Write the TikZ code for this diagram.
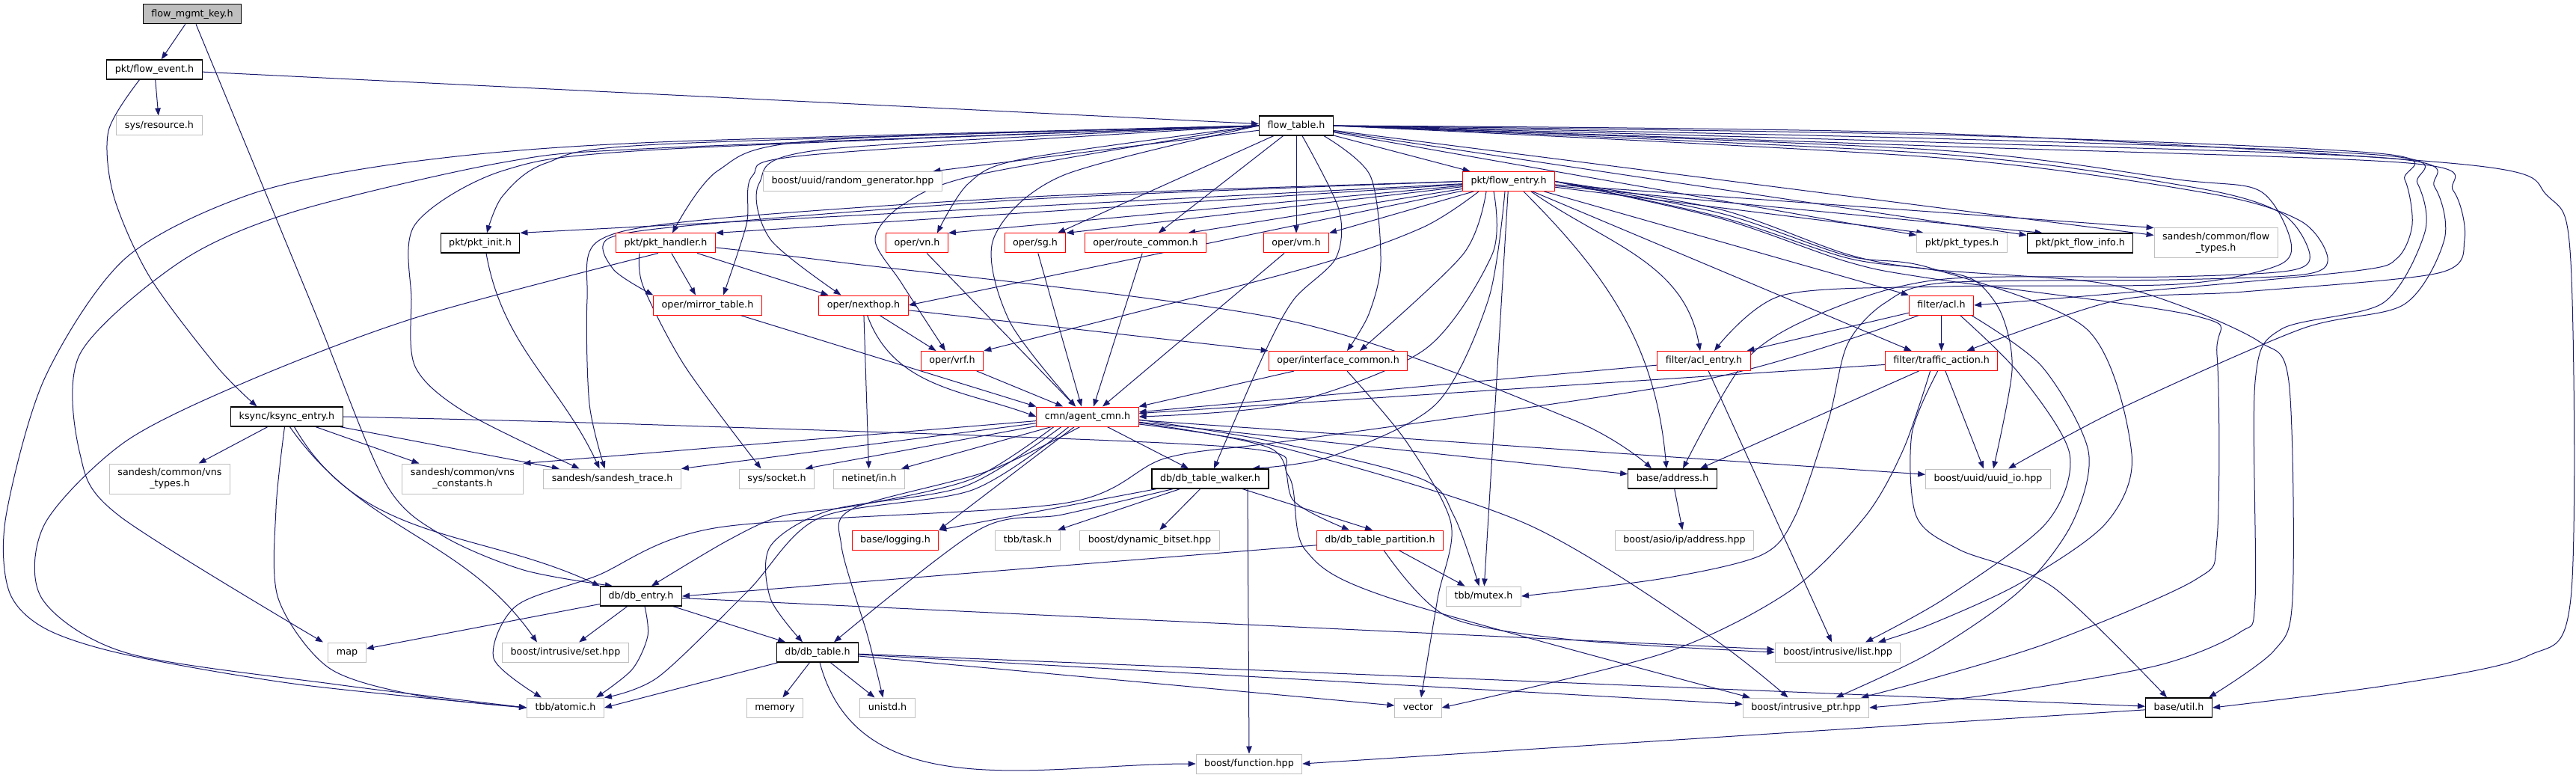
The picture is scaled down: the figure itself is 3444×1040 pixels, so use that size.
\documentclass[tikz,border=0pt]{standalone}
\usepackage{fontspec}
\setmainfont{DejaVu Sans}
\usetikzlibrary{arrows.meta}
\definecolor{edgec}{HTML}{191970}
\definecolor{grayb}{HTML}{BFBFBF}
\definecolor{redb}{HTML}{FF0000}
\pgfdeclarelayer{bg}
\pgfsetlayers{bg,main}
\tikzset{
  boxbase/.style={rectangle, fill=white, minimum height=26pt, inner xsep=11pt, inner ysep=0pt, line width=1pt},
  onel/.style={boxbase, text height=9.4pt, text depth=2.6pt},
  blknode/.style={onel, draw=black, line width=1.3pt},
  rednode/.style={onel, draw=redb},
  grynode/.style={onel, draw=grayb},
  grytwo/.style={boxbase, draw=grayb, align=center, minimum height=40pt},
  edg/.style={draw=edgec, line width=1pt, -{Triangle[length=10pt,width=7.5pt]}}
}
\begin{document}
\begin{tikzpicture}[x=1pt,y=-1pt,font=\fontsize{12.7}{15}\selectfont]
\useasboundingbox (0,0) rectangle (3444,1040);
\begin{pgfonlayer}{bg}
\fill[white] (0,0) rectangle (3444,1040);
\end{pgfonlayer}
% nodes
\node[blknode, fill=grayb] (key) at (257,18.7) {flow\_mgmt\_key.h};
\node[blknode] (event) at (206.5,93) {pkt/flow\_event.h};
\node[grynode] (resource) at (213,168) {sys/resource.h};
\node[blknode] (ftable) at (1733,168) {flow\_table.h};
\node[rednode] (fentry) at (2017,242.5) {pkt/flow\_entry.h};
\node[grynode] (randgen) at (1140,242.5) {boost/uuid/random\_generator.hpp};
\node[blknode] (pktinit) at (642,325) {pkt/pkt\_init.h};
\node[rednode] (pkthandler) at (890,325) {pkt/pkt\_handler.h};
\node[rednode] (vn) at (1226,325) {oper/vn.h};
\node[rednode] (sg) at (1384,325) {oper/sg.h};
\node[rednode] (routec) at (1531.5,325) {oper/route\_common.h};
\node[rednode] (vm) at (1733,325) {oper/vm.h};
\node[grynode] (pkttypes) at (2623,325) {pkt/pkt\_types.h};
\node[blknode] (flowinfo) at (2781,325) {pkt/pkt\_flow\_info.h};
\node[grytwo] (flowtypes) at (2962.6,325) {sandesh/common/flow\\\_types.h};
\node[rednode] (mirror) at (946,408) {oper/mirror\_table.h};
\node[rednode] (nexthop) at (1154.5,408) {oper/nexthop.h};
\node[rednode] (acl) at (2595.5,408) {filter/acl.h};
\node[rednode] (vrf) at (1273,482.5) {oper/vrf.h};
\node[rednode] (ifcommon) at (1789,482.5) {oper/interface\_common.h};
\node[rednode] (aclentry) at (2278,482.5) {filter/acl\_entry.h};
\node[rednode] (traffic) at (2595.6,482.5) {filter/traffic\_action.h};
\node[blknode] (ksync) at (383.5,557) {ksync/ksync\_entry.h};
\node[rednode] (agentcmn) at (1454,557) {cmn/agent\_cmn.h};
\node[grytwo] (vnstypes) at (227,640) {sandesh/common/vns\\\_types.h};
\node[grytwo] (vnsconst) at (618.5,640) {sandesh/common/vns\\\_constants.h};
\node[grynode] (strace) at (818.6,640) {sandesh/sandesh\_trace.h};
\node[grynode] (socket) at (1038.5,640) {sys/socket.h};
\node[grynode] (netinet) at (1162,640) {netinet/in.h};
\node[blknode] (walker) at (1618,640) {db/db\_table\_walker.h};
\node[blknode] (address) at (2236,640) {base/address.h};
\node[grynode] (uuidio) at (2658,640) {boost/uuid/uuid\_io.hpp};
\node[rednode] (logging) at (1197,722) {base/logging.h};
\node[grynode] (task) at (1374,722) {tbb/task.h};
\node[grynode] (bitset) at (1537,722) {boost/dynamic\_bitset.hpp};
\node[rednode] (partition) at (1845,722) {db/db\_table\_partition.h};
\node[grynode] (asio) at (2252,722) {boost/asio/ip/address.hpp};
\node[blknode] (dbentry) at (857,797) {db/db\_entry.h};
\node[grynode] (mutex) at (1983.5,797) {tbb/mutex.h};
\node[grynode] (map) at (464,872) {map};
\node[grynode] (set) at (756,872) {boost/intrusive/set.hpp};
\node[blknode] (dbtable) at (1093,872) {db/db\_table.h};
\node[grynode] (list) at (2457,872) {boost/intrusive/list.hpp};
\node[grynode] (atomic) at (756,946) {tbb/atomic.h};
\node[grynode] (memory) at (1036,946) {memory};
\node[grynode] (unistd) at (1186.5,946) {unistd.h};
\node[grynode] (vector) at (1896,946) {vector};
\node[grynode] (iptr) at (2414.5,946) {boost/intrusive\_ptr.hpp};
\node[blknode] (util) at (2913,946) {base/util.h};
\node[grynode] (function) at (1670,1021) {boost/function.hpp};

\begin{pgfonlayer}{bg}
% flow_mgmt_key
\draw[edg] (key) -- (event);
\draw[edg] plot[smooth] coordinates {([xshift=5pt]key.south) (420,415) (515,645) (590,715) (700,762) ([xshift=17pt]dbentry.north west)};
% flow_event
\draw[edg] (event) -- (ftable);
\draw[edg] (event) -- (resource);
\draw[edg] plot[smooth] coordinates {([xshift=-20pt]event.south) (145,175) (152,262) (200,370) (290,490) ([xshift=-40pt]ksync.north)};
% ksync
\draw[edg] (ksync) -- (vnstypes);
\draw[edg] (ksync) -- (vnsconst);
\draw[edg] (ksync) -- (strace);
\draw[edg] ([xshift=10pt]ksync.south) to[out=-60,in=155] (dbentry.north west);
\draw[edg] plot[smooth] coordinates {([xshift=-3pt]ksync.south) (369,680) (372,800) (440,893) (560,930) (atomic.west)};
\draw[edg] ([xshift=4pt]ksync.south) to[out=-55,in=125] ([xshift=-38pt]set.north);
\draw[edg] plot[smooth] coordinates {(ksync.east) (880,568) (1640,597) (1722,635) (1745,735) (1860,800) ([xshift=10pt]iptr.north west)};
% flow_table
\draw[edg] (ftable) -- (randgen);
\draw[edg] (ftable) -- (fentry);
\draw[edg] plot[smooth] coordinates {(ftable.west) (880,193) (730,218) (672,262) ([xshift=9pt]pktinit.north)};
\draw[edg] plot[smooth] coordinates {(ftable.west) (1090,188) (960,228) ([xshift=9pt]pkthandler.north)};
\draw[edg] plot[smooth] coordinates {(ftable.west) (1370,212) (1295,245) ([xshift=27pt]vn.north)};
\draw[edg] (ftable) -- (sg);
\draw[edg] (ftable) -- (routec);
\draw[edg] (ftable) -- (vm);
\draw[edg] (ftable) -- (pkttypes);
\draw[edg] (ftable) -- (flowinfo);
\draw[edg] (ftable) -- (flowtypes);
\draw[edg] plot[smooth] coordinates {(ftable.west) (1084,207) (1006,235) (998,300) ([xshift=21pt]mirror.north)};
\draw[edg] plot[smooth] coordinates {(ftable.west) (1100,200) (1015,245) (1030,320) ([xshift=-30pt]nexthop.north)};
\draw[edg] plot[smooth] coordinates {(ftable.west) (1310,233) (1208,273) (1170,320) (1205,378) ([xshift=-9pt]vrf.north)};
\draw[edg] plot[smooth] coordinates {(ftable.west) (1420,235) (1328,320) (1350,430) ([xshift=-16pt]agentcmn.north)};
\draw[edg] plot[smooth] coordinates {([xshift=37pt]ftable.south) (1832,235) (1846,350) (1830,420) ([xshift=12pt]ifcommon.north)};
\draw[edg] plot[smooth] coordinates {([xshift=8pt]ftable.south) (1790,280) (1786,345) (1730,400) (1690,473) ([xshift=5pt]walker.north)};
\draw[edg] plot[smooth] coordinates {(ftable.east) (2580,180) (3180,205) (3215,240) (3225,300) (3205,345) (3150,362) (2855,390) (acl.east)};
\draw[edg] plot[smooth] coordinates {(ftable.east) (2580,200) (2911,240) (3021,255) (3062,320) (3045,355) (2911,380) (2600,383) (2382,395) ([xshift=14pt]aclentry.north)};
\draw[edg] plot[smooth] coordinates {(ftable.east) (2580,205) (2930,250) (3050,285) (3088,340) (3060,362) (2900,370) (2600,373) (2449,413) (2337,478) ([xshift=14pt]address.north)};
\draw[edg] plot[smooth] coordinates {(ftable.east) (2580,210) (2950,258) (3075,295) (3112,345) (3080,367) (2900,374) (2600,378) (2520,405) (2470,460) (2445,560) (2400,690) (2355,742) (2225,773) (mutex.east)};
\draw[edg] plot[smooth] coordinates {(ftable.east) (2580,190) (3200,212) (3255,250) (3268,320) (3214,407) (3076,440) (2833,547) ([xshift=27pt]uuidio.north)};
\draw[edg] plot[smooth] coordinates {(ftable.east) (2580,185) (3190,208) (3232,245) (3242,310) (3186,405) (3050,440) (3015,510) (3015,800) (2995,845) (2883,890) (2650,930) (iptr.east)};
\draw[edg] plot[smooth] coordinates {(ftable.east) (2580,195) (3220,218) (3280,255) (3295,320) (3260,365) (3000,390) (2828,402) ([xshift=34pt]traffic.north)};
\draw[edg] plot[smooth] coordinates {(ftable.east) (2580,178) (3296,220) (3406,262) (3437,350) (3437,800) (3379,877) (3200,915) (util.east)};
\draw[edg] plot[smooth] coordinates {(ftable.west) (880,200) (673,228) (555,300) (550,400) (555,490) (620,550) ([xshift=-44pt]strace.north)};
\draw[edg] plot[smooth] coordinates {(ftable.west) (880,190) (560,215) (340,258) (168,345) (60,505) (8,690) (12,790) (60,840) (168,875) (400,915) (atomic.west)};
\draw[edg] plot[smooth] coordinates {(ftable.west) (880,198) (673,217) (393,283) (241,350) (107,473) (107,607) (160,690) ([xshift=-32pt]map.north)};
% flow_entry
\draw[edg] (fentry) -- (pktinit.north east);
\draw[edg] (fentry) -- (pkthandler.north east);
\draw[edg] (fentry) -- (vn.north east);
\draw[edg] (fentry) -- (sg.north east);
\draw[edg] (fentry) -- ([xshift=-25pt]routec.north east);
\draw[edg] (fentry) -- (vm.north east);
\draw[edg] (fentry) -- ([xshift=10pt]pkttypes.north west);
\draw[edg] (fentry) -- ([xshift=21pt]flowinfo.north west);
\draw[edg] (fentry) -- (flowtypes.north west);
\draw[edg] plot[smooth] coordinates {(fentry.west) (1400,265) (960,298) (815,318) (820,360) (mirror.north west)};
\draw[edg] plot[smooth] coordinates {(fentry.west) (1400,262) (950,293) (800,322) (785,400) (788,540) ([xshift=-10pt]strace.north)};
\draw[edg] (fentry) -- (nexthop.east);
\draw[edg] plot[smooth] coordinates {([xshift=-40pt]fentry.south) (1900,305) (1740,360) (vrf.north east)};
\draw[edg] plot[smooth] coordinates {([xshift=-30pt]fentry.south) (1956,340) ([xshift=29pt]ifcommon.north)};
\draw[edg] plot[smooth] coordinates {([xshift=-20pt]fentry.south) (1995,340) (1905,467) (1720,540) (agentcmn.east)};
\draw[edg] (fentry) -- (mutex);
\draw[edg] plot[smooth] coordinates {([xshift=-5pt]fentry.south) (1990,400) (1920,540) (1780,610) ([xshift=56pt]walker.north)};
\draw[edg] (fentry) -- (acl.north west);
\draw[edg] ([xshift=30pt]fentry.south) to[out=-35,in=100] ([xshift=-5pt]aclentry.north);
\draw[edg] (fentry) -- ([xshift=-40pt]traffic.north);
\draw[edg] ([xshift=20pt]fentry.south) to[out=-45,in=95] ([xshift=-8pt]address.north);
\draw[edg] plot[smooth] coordinates {(fentry.east) (2300,290) (2470,345) (2580,360) (2640,375) (2676,420) (2690,495) ([xshift=7pt]uuidio.north)};
\draw[edg] plot[smooth] coordinates {(fentry.east) (2300,285) (2470,342) (2580,358) (2790,440) (2850,607) (2815,700) (2700,780) (2580,835) ([xshift=54pt]list.north)};
\draw[edg] plot[smooth] coordinates {(fentry.east) (2300,292) (2470,350) (2580,372) (2938,423) (2964,475) (2964,720) (2935,775) (2745,857) (2580,908) ([xshift=-11pt]iptr.north east)};
\draw[edg] plot[smooth] coordinates {(fentry.east) (2300,280) (2470,340) (2580,360) (2800,377) (2911,407) (3021,457) (3060,510) (3065,800) (3040,870) ([xshift=-5pt]util.north east)};
% pkt_init, pkt_handler
\draw[edg] ([xshift=8pt]pktinit.south) to[out=-80,in=115] ([xshift=-17pt]strace.north);
\draw[edg] (pkthandler) -- ([xshift=-16pt]mirror.north);
\draw[edg] (pkthandler) -- ([xshift=-47pt]nexthop.north);
\draw[edg] plot[smooth] coordinates {([xshift=-35pt]pkthandler.south) (860,383) (916,490) ([xshift=-21pt]socket.north)};
\draw[edg] plot[smooth] coordinates {([yshift=-6pt]pkthandler.east) (1118,350) (1720,428) (2100,560) ([xshift=-28pt]address.north)};
\draw[edg] plot[smooth] coordinates {([xshift=-10pt]pkthandler.south) (561,423) (337,507) (168,590) (60,700) (56,800) (170,873) (450,915) (atomic.west)};
% oper
\draw[edg] (mirror) -- (agentcmn.north west);
\draw[edg] (nexthop) -- (vrf);
\draw[edg] (nexthop) -- (ifcommon.north west);
\draw[edg] ([xshift=5pt]nexthop.south) to[out=-70,in=160] (agentcmn.west);
\draw[edg] (nexthop) -- (netinet);
\draw[edg] (vn) -- ([xshift=-16pt]agentcmn.north);
\draw[edg] (sg) -- ([xshift=-8pt]agentcmn.north);
\draw[edg] (routec) -- ([xshift=8pt]agentcmn.north);
\draw[edg] (vm) -- ([xshift=20pt]agentcmn.north);
\draw[edg] (vrf) -- (agentcmn);
\draw[edg] (ifcommon) -- (agentcmn.north east);
\draw[edg] plot[smooth] coordinates {([xshift=12pt]ifcommon.south) (1880,590) (1940,700) (1922,800) ([xshift=4pt]vector.north)};
% filter
\draw[edg] (acl) -- (aclentry);
\draw[edg] (acl) -- (traffic);
\draw[edg] plot[smooth] coordinates {([xshift=25pt]acl.south) (2700,500) (2767,607) (2735,700) (2600,800) ([xshift=37pt]list.north)};
\draw[edg] plot[smooth] coordinates {([xshift=40pt]acl.south) (2730,490) (2792,603) (2770,700) (2700,790) (2580,873) ([xshift=40pt]iptr.north)};
\draw[edg] plot[smooth] coordinates {([xshift=-30pt]acl.south) (2281,507) (1740,587) (1560,612) (1421,673) (961,705) (797,770) (690,810) (660,880) ([xshift=-32pt]atomic.north)};
\draw[edg] (aclentry) -- (agentcmn);
\draw[edg] (aclentry) -- ([xshift=-8pt]list.north);
\draw[edg] (traffic) -- (agentcmn);
\draw[edg] (traffic) -- ([xshift=37pt]address.north);
\draw[edg] (traffic) -- ([xshift=-6pt]uuidio.north);
\draw[edg] plot[smooth] coordinates {([xshift=-15pt]traffic.south) (2545,600) (2494,690) (2393,790) (2225,873) (vector.east)};
\draw[edg] plot[smooth] coordinates {([xshift=-5pt]traffic.south) (2556,580) (2562,690) (2620,735) (2745,785) ([xshift=-16pt]util.north)};
% agent_cmn
\draw[edg] (agentcmn) -- (vnsconst.north east);
\draw[edg] (agentcmn) -- (strace.north east);
\draw[edg] (agentcmn) -- ([xshift=38pt]socket.north);
\draw[edg] (agentcmn) -- ([xshift=43pt]netinet.north);
\draw[edg] (agentcmn) -- ([xshift=-29pt]walker.north);
\draw[edg] (agentcmn) -- (address);
\draw[edg] (agentcmn) -- (uuidio);
\draw[edg] plot[smooth] coordinates {([yshift=-8pt]agentcmn.east) (1700,600) (1730,670) ([xshift=-41pt]partition.north)};
\draw[edg] plot[smooth] coordinates {([yshift=-4pt]agentcmn.east) (1700,590) (1900,640) (1944,690) ([xshift=-6pt]mutex.north)};
\draw[edg] plot[smooth] coordinates {([yshift=-10pt]agentcmn.east) (1720,600) (2040,700) (2281,847) ([xshift=-24pt]iptr.north)};
\draw[edg] plot[smooth] coordinates {([xshift=-45pt]agentcmn.south) (1300,640) (1150,675) (1045,690) (972,723) ([xshift=14pt]dbentry.north)};
\draw[edg] plot[smooth] coordinates {([xshift=-35pt]agentcmn.south) (1290,650) (1110,682) (1030,730) (1030,800) ([xshift=-20pt]dbtable.north)};
\draw[edg] plot[smooth] coordinates {([xshift=-25pt]agentcmn.south) (1300,655) (1096,692) (1000,790) (880,905) (atomic.north east)};
\draw[edg] plot[smooth] coordinates {([xshift=-10pt]agentcmn.south) (1320,630) (1140,680) (1125,730) (1160,850) ([xshift=-6pt]unistd.north)};
\draw[edg] (agentcmn) -- (logging.north east);
% walker
\draw[edg] (walker) -- (logging.north east);
\draw[edg] (walker) -- (task);
\draw[edg] (walker) -- (bitset);
\draw[edg] (walker) -- ([xshift=-10pt]partition.north);
\draw[edg] plot[smooth] coordinates {([xshift=-50pt]walker.south) (1420,688) (1309,708) ([xshift=22pt]dbtable.north)};
\draw[edg] ([xshift=50pt]walker.south) -- (function.north);
% partition
\draw[edg] (partition) -- (dbentry.east);
\draw[edg] (partition) -- (mutex);
\draw[edg] plot[smooth] coordinates {([xshift=5pt]partition.south) (1933,823) (2100,855) (list.west)};
% db_entry
\draw[edg] (dbentry) -- (map);
\draw[edg] (dbentry) -- (set);
\draw[edg] plot[smooth] coordinates {([xshift=5pt]dbentry.south) (866,850) (845,895) ([xshift=41pt]atomic.north)};
\draw[edg] (dbentry) -- (dbtable);
\draw[edg] (dbentry) -- (list);
% db_table
\draw[edg] (dbtable) -- (atomic.east);
\draw[edg] (dbtable) -- (memory);
\draw[edg] (dbtable) -- (unistd);
\draw[edg] ([xshift=3pt]dbtable.south) to[out=-75,in=180] (function.west);
\draw[edg] (dbtable) -- (util);
\draw[edg] (dbtable) -- (iptr);
\draw[edg] (dbtable) -- (vector);
% misc
\draw[edg] (address) -- (asio);
\draw[edg] (util) -- (function.east);
\end{pgfonlayer}
\end{tikzpicture}
\end{document}
